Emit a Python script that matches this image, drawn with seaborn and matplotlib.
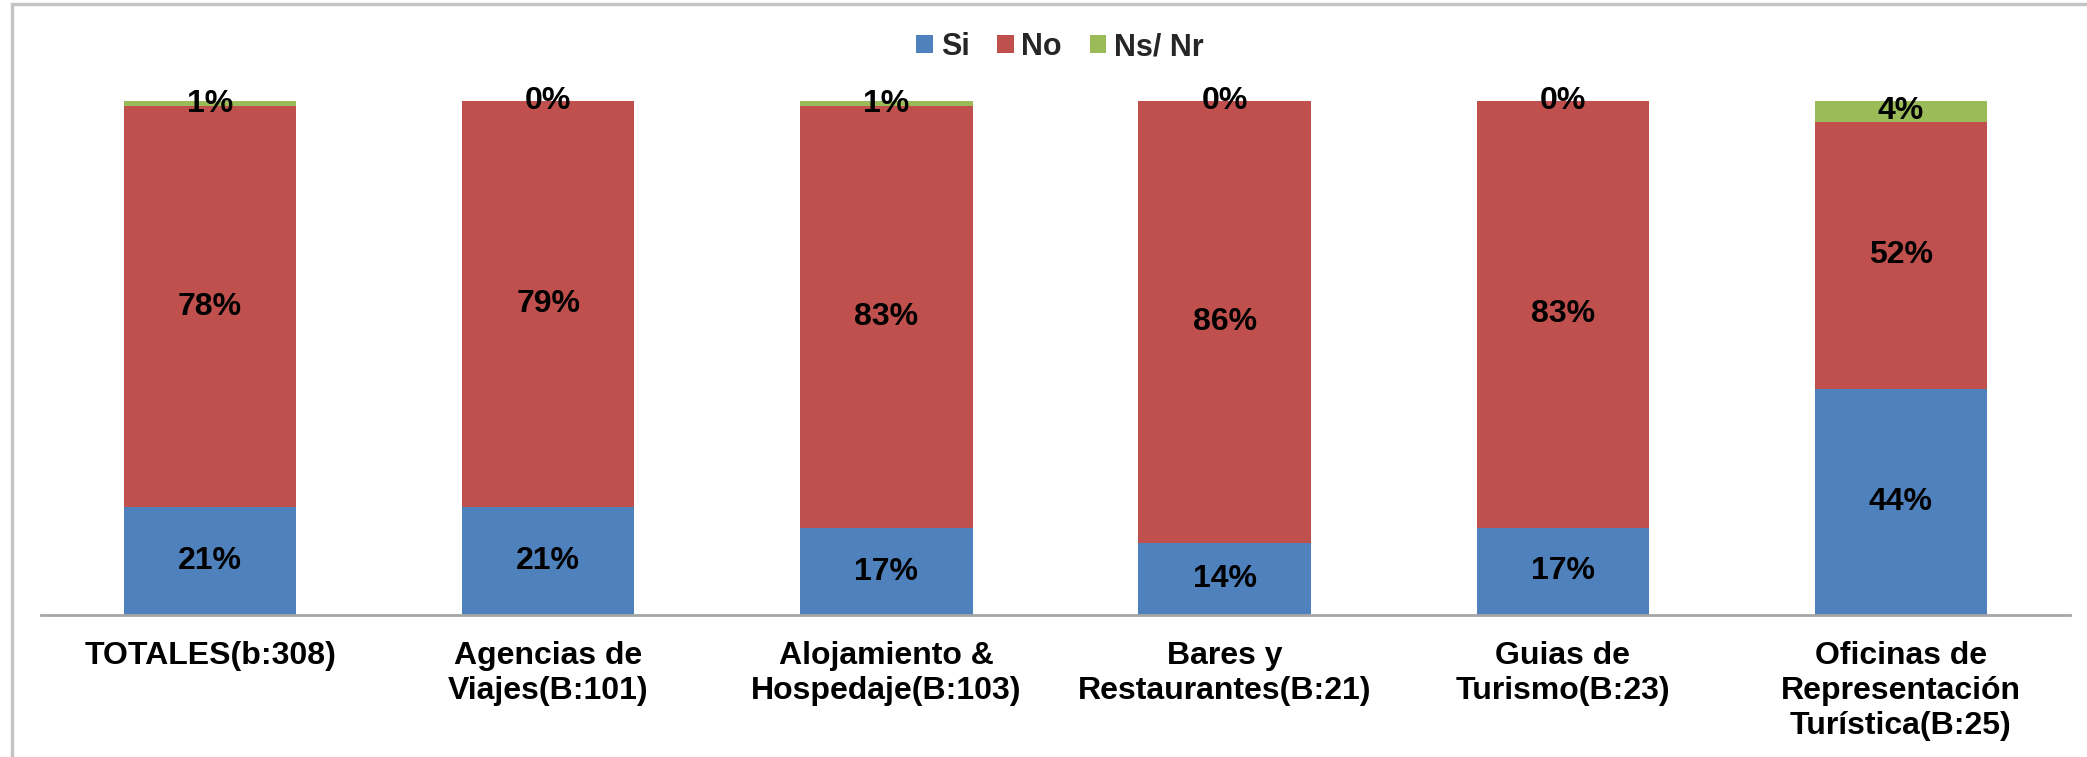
import matplotlib
matplotlib.use("Agg")
import matplotlib.pyplot as plt
from matplotlib.patches import Patch, Rectangle
import numpy as np
import pandas as pd
import seaborn as sns

# Survey answers by sector (percent of respondents)
categories = [
    "TOTALES(b:308)",
    "Agencias de\nViajes(B:101)",
    "Alojamiento &\nHospedaje(B:103)",
    "Bares y\nRestaurantes(B:21)",
    "Guias de\nTurismo(B:23)",
    "Oficinas de\nRepresentación\nTurística(B:25)",
]
si = [21, 21, 17, 14, 17, 44]
no = [78, 79, 83, 86, 83, 52]
ns_nr = [1, 0, 1, 0, 0, 4]

series_names = ["Si", "No", "Ns/ Nr"]
series_colors = ["#4F81BD", "#C0504D", "#9BBB59"]

sns.set_theme(style="white")
plt.rcParams["font.family"] = ["Liberation Sans", "DejaVu Sans"]
plt.rcParams["font.weight"] = "bold"

df = pd.DataFrame({"cat": categories, "Si": si, "No": no, "Ns": ns_nr})
# 100% stacked: each bar is scaled by its own total
total = df["Si"] + df["No"] + df["Ns"]
df["Si_f"] = df["Si"] / total
df["No_f"] = df["No"] / total
df["Ns_f"] = df["Ns"] / total
df["top_si"] = df["Si_f"]
df["top_no"] = df["Si_f"] + df["No_f"]
df["top_ns"] = df["top_no"] + df["Ns_f"]

W, H = 2087, 757
fig = plt.figure(figsize=(W / 100, H / 100), dpi=100)
fig.patch.set_facecolor("white")
ax = fig.add_axes([41 / W, (H - 615) / H, (2070 - 41) / W, (615 - 101) / H])
ax.set_facecolor("none")

bar_w = 0.51
# stacked bars drawn from the tallest cumulative total down
for col, color in zip(["top_ns", "top_no", "top_si"], series_colors[::-1]):
    sns.barplot(data=df, x="cat", y=col, order=categories, color=color,
                saturation=1, width=bar_w, errorbar=None, ax=ax,
                linewidth=0)

ax.set_xlim(-0.5, len(categories) - 0.5)
ax.set_ylim(0, 1.0)
ax.set_xlabel("")
ax.set_ylabel("")
ax.set_yticks([])
for s in ["top", "right", "left"]:
    ax.spines[s].set_visible(False)
ax.spines["bottom"].set_color("#A6A6A6")
ax.spines["bottom"].set_linewidth(2)
ax.tick_params(axis="x", length=0, pad=19)
for lbl in ax.get_xticklabels():
    lbl.set_fontsize(23)
    lbl.set_fontweight("bold")
    lbl.set_linespacing(1.2)
    lbl.set_color("black")

# value labels centred in each segment
for i in range(len(categories)):
    segs = [
        (df["Si_f"][i] / 2, si[i]),
        (df["Si_f"][i] + df["No_f"][i] / 2, no[i]),
        (df["top_no"][i] + df["Ns_f"][i] / 2, ns_nr[i]),
    ]
    for yc, v in segs:
        ax.text(i, yc, f"{v}%", ha="center", va="center", fontsize=23,
                fontweight="bold", color="black", clip_on=False)

handles = [Patch(facecolor=c, edgecolor="none") for c in series_colors]
leg = fig.legend(handles, series_names, loc="center", ncol=3,
                 bbox_to_anchor=(1060 / W, 1 - 47 / H), frameon=False,
                 prop={"size": 22, "weight": "bold"}, handlelength=0.55,
                 handleheight=0.55, handletextpad=0.25, columnspacing=0.9)

# outer frame around the chart area
fig.patches.append(Rectangle((12 / W, -0.1), 1.2, (H - 4) / H + 0.1,
                             transform=fig.transFigure, fill=False,
                             edgecolor="#C4C4C4", linewidth=2.5))

fig.savefig("out.png", dpi=100, facecolor="white")
